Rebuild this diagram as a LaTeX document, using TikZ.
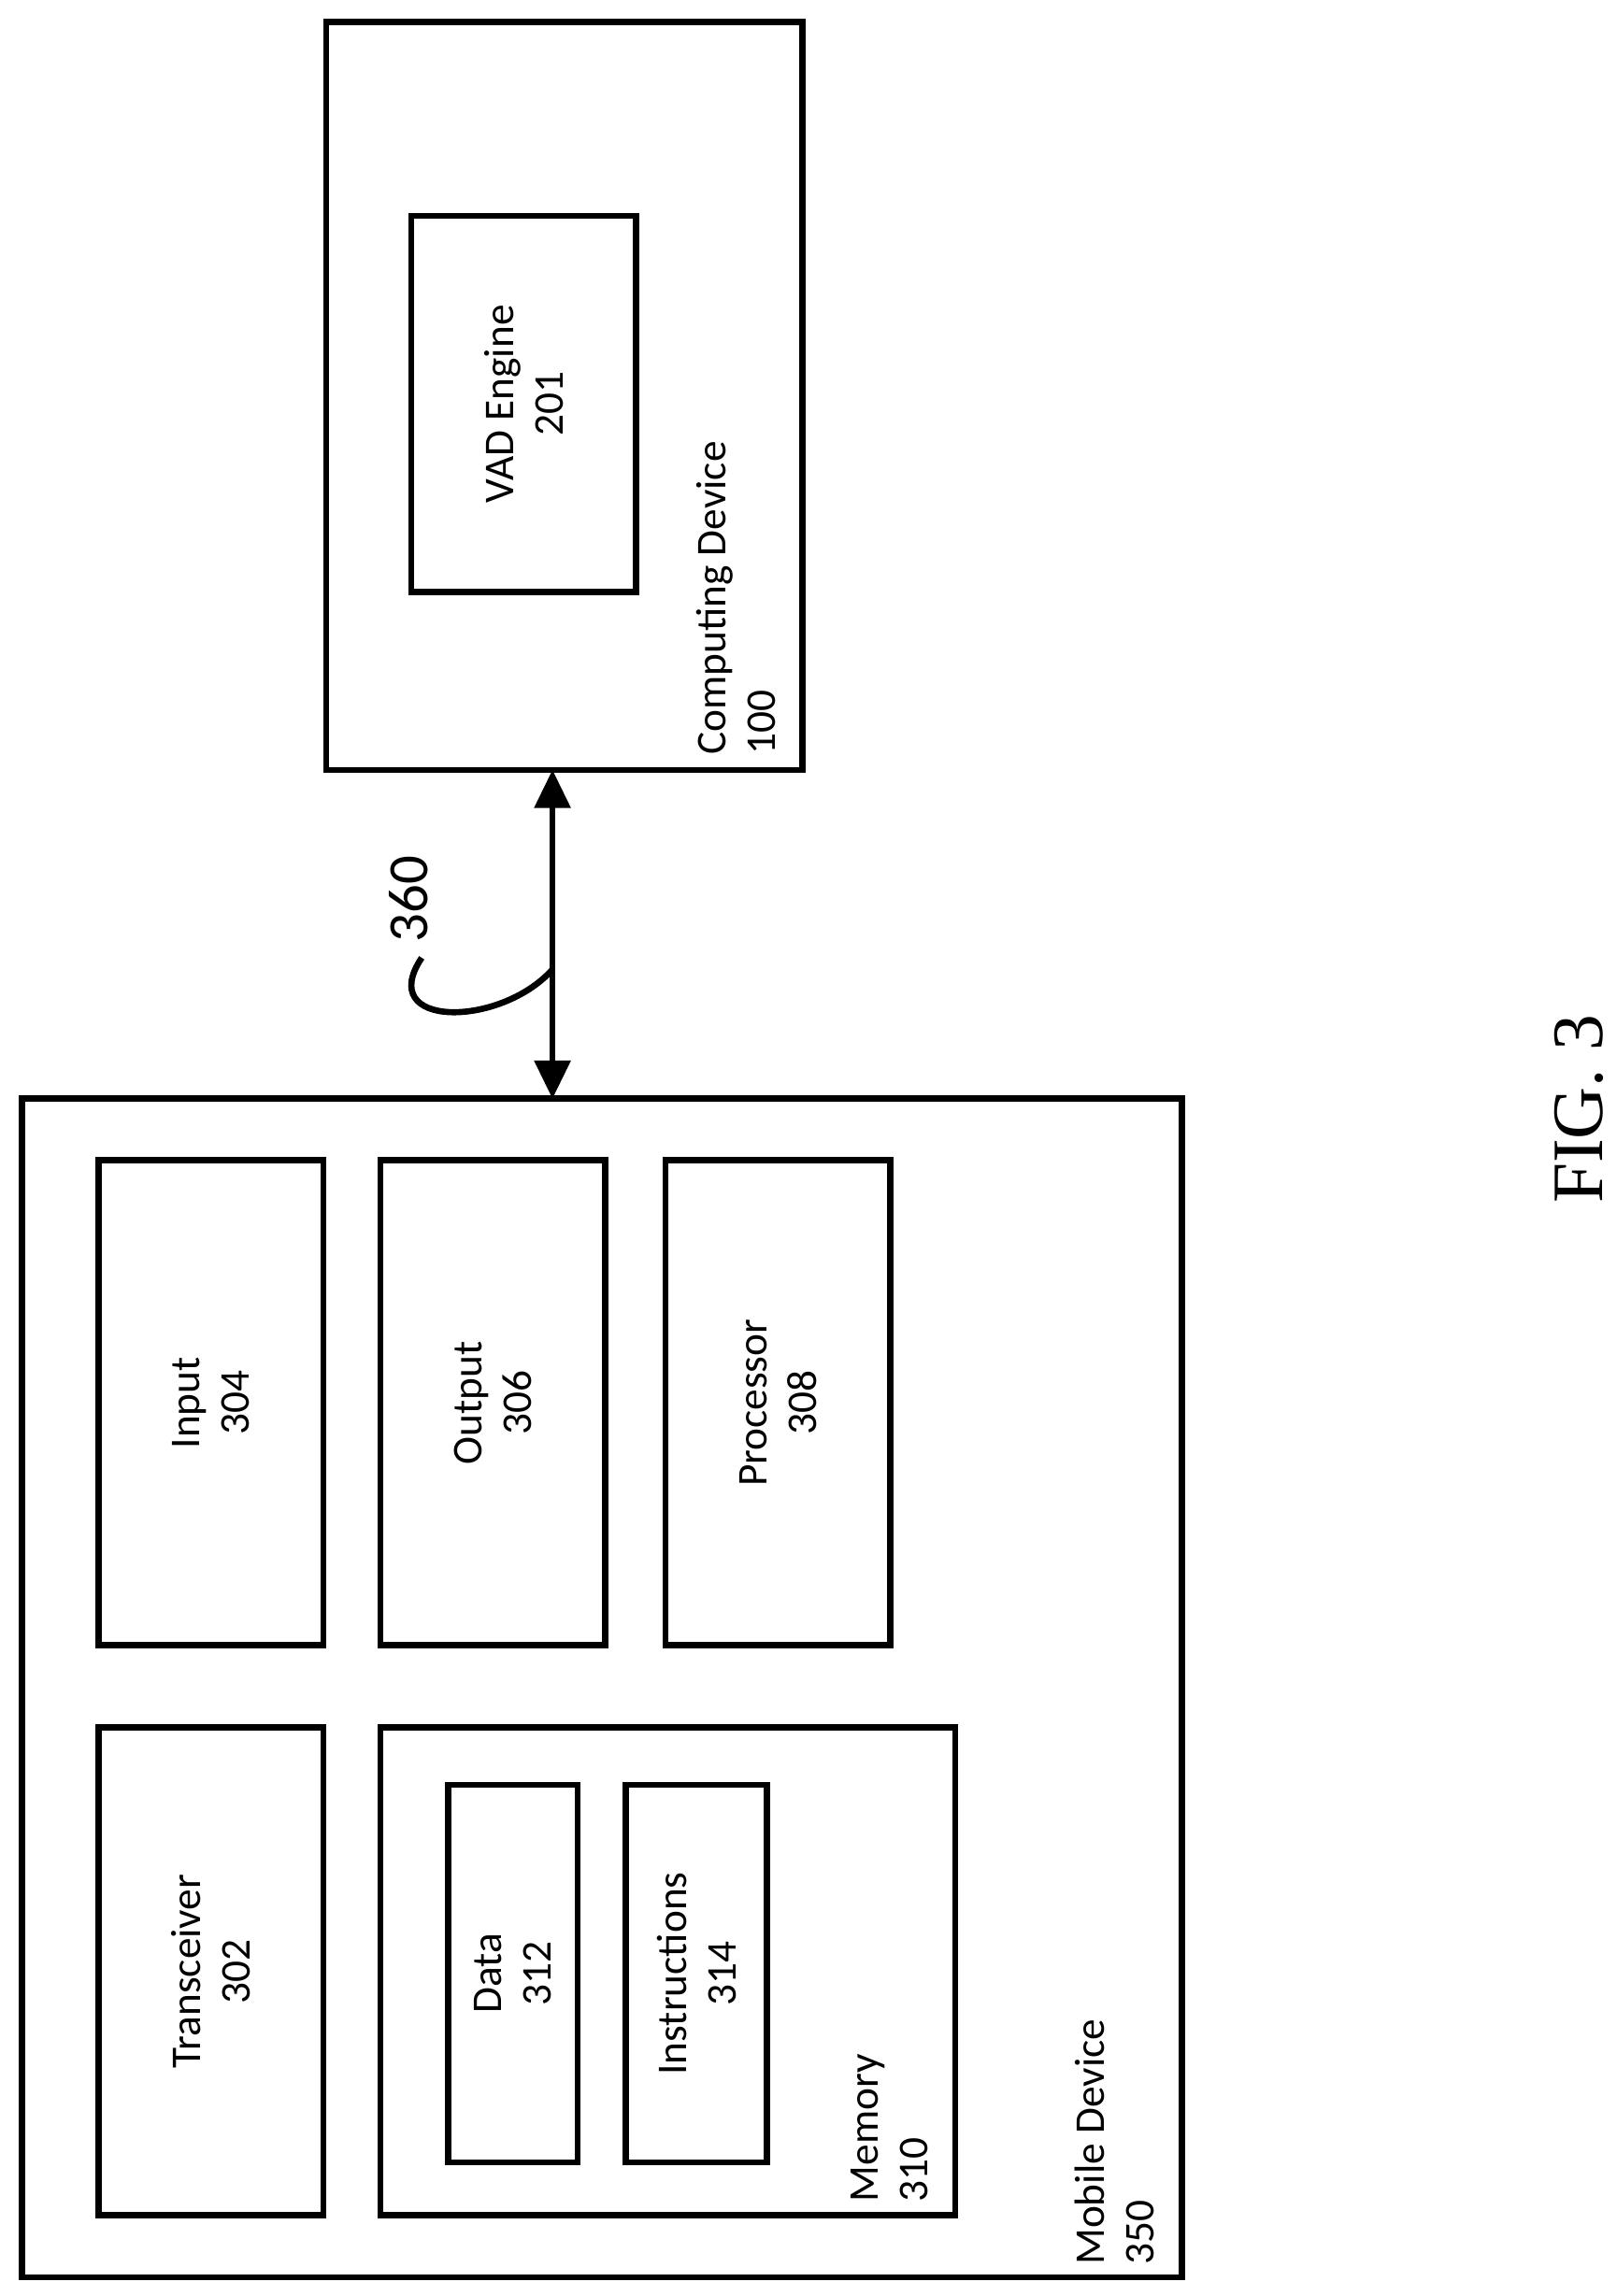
\documentclass[tikz,border=0pt]{standalone}
\usepackage{fontspec}
\setmainfont{Carlito}
\newfontfamily\figfont{Liberation Serif}
\usetikzlibrary{arrows.meta, positioning}

\begin{document}
\begin{tikzpicture}[
    x=0.01cm, y=-0.01cm,
    box/.style={rectangle, draw=black, line width=1.2pt, inner sep=0pt},
    tag/.style={font=\fontsize{8.2}{9.6}\selectfont, align=left, rotate=90, anchor=south west, inner sep=1pt},
    lbl/.style={font=\fontsize{8.2}{9.6}\selectfont, align=center, rotate=90},
    arrow/.style={{Triangle[length=2.6mm, width=2.4mm]}-{Triangle[length=2.6mm, width=2.4mm]}, line width=1.2pt}
]
\useasboundingbox (0,0) rectangle (1100,1563);

% Computing device
\node[box, minimum width=3.24cm, minimum height=5.09cm] (comp) at (384,269.5) {};
\node[box, minimum width=1.53cm, minimum height=2.56cm] (vad) at (356.5,275) {};
\node[lbl] at (vad) {VAD Engine\\201};
\node[tag] (comptag) at (532,518) {Computing Device\\100};

% Mobile device
\node[box, minimum width=7.89cm, minimum height=8.02cm] (mobile) at (409.5,1149) {};
\node[tag] (mobiletag) at (790,1546) {Mobile Device\\350};
\node[box, minimum width=1.53cm, minimum height=3.30cm] (input) at (143.5,955) {};
\node[lbl] at (input) {Input\\304};
\node[box, minimum width=1.53cm, minimum height=3.30cm] (output) at (335.5,955) {};
\node[lbl] at (output) {Output\\306};
\node[box, minimum width=1.53cm, minimum height=3.30cm] (proc) at (529.5,955) {};
\node[lbl] at (proc) {Processor\\308};
\node[box, minimum width=1.53cm, minimum height=3.32cm] (trans) at (143.5,1342) {};
\node[lbl] at (trans) {Transceiver\\302};
\node[box, minimum width=3.91cm, minimum height=3.32cm] (memory) at (454.5,1342) {};
\node[tag] (memtag) at (636,1503) {Memory\\310};
\node[box, minimum width=0.88cm, minimum height=2.57cm] (data) at (349,1343.5) {};
\node[lbl] at (data) {Data\\312};
\node[box, minimum width=0.96cm, minimum height=2.57cm] (instr) at (474,1343.5) {};
\node[lbl] at (instr) {Instructions\\314};

% Link 360
\coordinate (linktop) at (376,524);
\coordinate (linkbot) at (376,748);
\coordinate (linkmid) at (376,660);
\draw[arrow] (linktop) -- (linkbot);
\node[font=\fontsize{11}{12}\selectfont, rotate=90] (linktag) at (278,612) {360};
\draw[line width=1.2pt] (linkmid) .. controls (340,700) and (255,700) .. (287,652);

\node[font=\figfont\fontsize{14}{16}\selectfont, rotate=90] (fig) at (1075,755) {FIG. 3};
\end{tikzpicture}
\end{document}
